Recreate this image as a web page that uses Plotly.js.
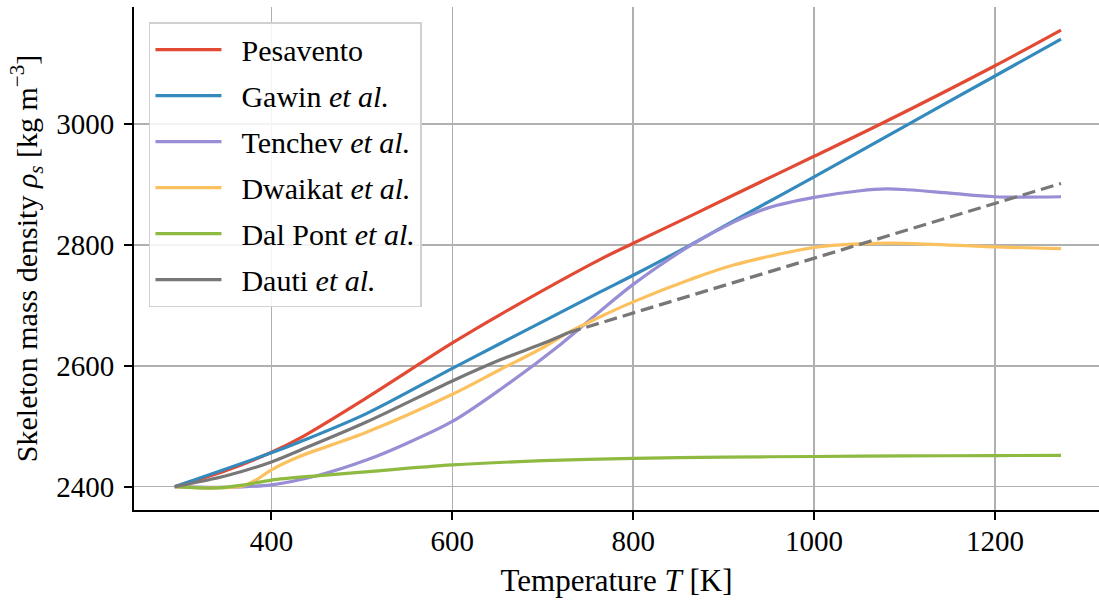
<!DOCTYPE html>
<html>
<head>
<meta charset="utf-8">
<script src="https://cdn.plot.ly/plotly-3.0.1.min.js"></script>
<style>html,body{margin:0;padding:0;background:#fff;}</style>
</head>
<body>
<div id="chart" style="width:1099px;height:610px;"></div>
<script>
// Temperature T [K] and skeleton mass density [kg m^-3]
const seriesNames = ["Pesavento", "Gawin <i>et al.</i>", "Tenchev <i>et al.</i>", "Dwaikat <i>et al.</i>", "Dal Pont <i>et al.</i>", "Dauti <i>et al.</i>"];

const pesaventoT = [293, 350, 400, 431, 505, 600, 653, 763, 800, 863, 911, 1000, 1073, 1200, 1273];
const pesaventoRho = [2400, 2427, 2457, 2480, 2547, 2638, 2685, 2776, 2803, 2848, 2883, 2947, 3000, 3097, 3156];

const gawinT = [293, 400, 431, 505, 600, 653, 763, 800, 863, 911, 1000, 1104, 1200, 1273];
const gawinRho = [2400, 2456, 2474, 2521, 2596, 2637, 2722, 2750, 2800, 2840, 2913, 3000, 3080, 3141];

const tenchevT = [293, 350, 400, 450, 505, 550, 600, 653, 720, 763, 800, 863, 911, 950, 1000, 1051, 1080, 1100, 1150, 1200, 1273];
const tenchevRho = [2400, 2399, 2403, 2418, 2444, 2472, 2508, 2561, 2636, 2690, 2735, 2799, 2838, 2862, 2879, 2890, 2893, 2892, 2886, 2880, 2880];

const dwaikatT = [293, 320, 350, 370, 385, 400, 431, 505, 600, 653, 700, 728, 763, 800, 863, 911, 1000, 1051, 1100, 1200, 1273];
const dwaikatRho = [2400, 2398, 2398.5, 2402, 2413, 2428, 2450, 2490, 2553, 2594, 2630, 2655, 2681, 2706, 2743, 2767, 2796, 2802, 2803, 2797, 2794];

const dalPontT = [293, 320, 340, 370, 400, 450, 500, 600, 700, 800, 900, 1000, 1100, 1200, 1273];
const dalPontRho = [2400, 2398, 2398, 2403, 2411, 2418, 2424, 2436, 2443, 2447, 2449, 2450, 2451, 2451.5, 2452];

const dautiT = [293, 350, 400, 431, 505, 600, 653, 700, 728];
const dautiRho = [2400, 2418, 2441, 2460, 2507, 2575, 2610, 2637, 2655];

const dautiExtT = [728, 1273];
const dautiExtRho = [2655, 2902];

const colors = ["#E24A33", "#348ABD", "#988ED5", "#FBC15E", "#8EBA42", "#777777"];
const LW = 3.2;
const PAD = "\u2002";

const traces = [
  {x: pesaventoT, y: pesaventoRho, name: PAD + seriesNames[0], line: {color: colors[0]}, legendgroup: "g1"},
  {x: gawinT, y: gawinRho, name: PAD + seriesNames[1], line: {color: colors[1]}, legendgroup: "g2"},
  {x: tenchevT, y: tenchevRho, name: PAD + seriesNames[2], line: {color: colors[2]}, legendgroup: "g3"},
  {x: dwaikatT, y: dwaikatRho, name: PAD + seriesNames[3], line: {color: colors[3]}, legendgroup: "g4"},
  {x: dalPontT, y: dalPontRho, name: PAD + seriesNames[4], line: {color: colors[4]}, legendgroup: "g5"},
  {x: dautiT, y: dautiRho, name: PAD + seriesNames[5], line: {color: colors[5]}, legendgroup: "g6"},
  {x: dautiExtT, y: dautiExtRho, name: "Dauti ext", showlegend: false, legendgroup: "g6", line: {color: colors[5], dash: "13px,6px"}}
].map(t => {
  t.type = "scatter"; t.mode = "lines";
  t.line.width = LW; t.line.shape = "spline"; t.line.smoothing = 0.9;
  t.hoverinfo = "skip";
  return t;
});

const FONT = "'Liberation Serif', 'DejaVu Serif', serif";

const layout = {
  width: 1099, height: 610,
  margin: {l: 134, r: 0, t: 7, b: 100},
  paper_bgcolor: "#ffffff", plot_bgcolor: "#ffffff",
  font: {family: FONT, size: 29, color: "#000"},
  showlegend: true,
  legend: {
    x: 0.0155, y: 0.97, xanchor: "left", yanchor: "top",
    bgcolor: "rgba(255,255,255,0.85)", bordercolor: "#d0d0d0", borderwidth: 1.5,
    font: {family: FONT, size: 30, color: "#000"},
    itemwidth: 66, tracegroupgap: 4, traceorder: "grouped"
  },
  xaxis: {
    range: [248, 1315], tickmode: "linear", tick0: 0, dtick: 200,
    showgrid: true, gridcolor: "#b0b0b0", gridwidth: 1.6,
    zeroline: false, showline: true, linecolor: "#000", linewidth: 2,
    ticks: "outside", ticklen: 8, tickwidth: 2, tickcolor: "#000",
    ticklabelstandoff: -4,
    tickfont: {family: FONT, size: 29, color: "#000"},
    title: {text: "Temperature <i>T</i> [K]", font: {family: FONT, size: 31, color: "#000"}, standoff: 14}
  },
  yaxis: {
    range: [2361.4, 3194.2], tickmode: "linear", tick0: 0, dtick: 200,
    showgrid: true, gridcolor: "#b0b0b0", gridwidth: 1.6,
    zeroline: false, showline: true, linecolor: "#000", linewidth: 2,
    ticks: "outside", ticklen: 8, tickwidth: 2, tickcolor: "#000",
    ticklabelstandoff: 4,
    tickfont: {family: FONT, size: 29, color: "#000"},
    title: {text: "Skeleton mass density <i>ρ<sub>s</sub></i> [kg m<sup>−3</sup>]", font: {family: FONT, size: 30, color: "#000"}, standoff: 10}
  }
};

Plotly.newPlot("chart", traces, layout, {displayModeBar: false, staticPlot: true});
</script>
</body>
</html>
